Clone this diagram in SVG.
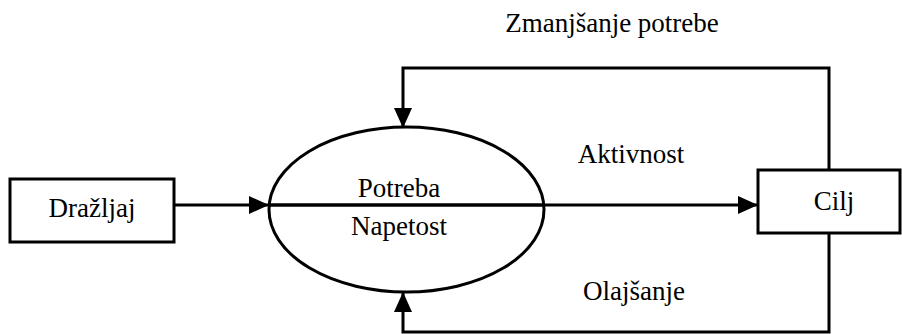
<svg xmlns="http://www.w3.org/2000/svg" width="902" height="334" viewBox="0 0 902 334">
<style>
.s{fill:none;stroke:#000;stroke-width:3}
.n{fill:#fff;stroke:#000;stroke-width:3}
.t{font-family:'Liberation Serif','DejaVu Serif',serif;font-size:27px;fill:#000}
</style>
<defs>
<marker id="ah" markerUnits="userSpaceOnUse" markerWidth="20" markerHeight="20" viewBox="0 0 20 20" refX="20" refY="10" orient="auto">
<path d="M0,1 L20,10 L0,19 Z" fill="#000"/>
</marker>
</defs>
<rect width="902" height="334" fill="#fff"/>
<g id="connectors">
<line class="s" x1="174" y1="205" x2="269" y2="205" marker-end="url(#ah)"/>
<line class="s" x1="269" y1="205" x2="758" y2="205" marker-end="url(#ah)"/>
<polyline class="s" points="829,170 829,68 403,68 403,128" marker-end="url(#ah)"/>
<polyline class="s" points="829,233 829,332 403,332 403,292" marker-end="url(#ah)"/>
</g>
<g id="drazljaj">
<rect class="n" x="10" y="179" width="164" height="63"/>
<text class="t" font-family="Liberation Serif, serif" x="92" y="217" text-anchor="middle">Dražljaj</text>
</g>
<g id="potreba">
<ellipse class="s" cx="406.5" cy="209.5" rx="137.5" ry="82.5"/>
<line class="s" x1="269" y1="205" x2="544" y2="205"/>
<text class="t" x="399" y="197" text-anchor="middle">Potreba</text>
<text class="t" x="399" y="235" text-anchor="middle">Napetost</text>
</g>
<g id="cilj">
<rect class="n" x="758" y="170" width="142" height="63"/>
<text class="t" x="834" y="210" text-anchor="middle">Cilj</text>
</g>
<g id="labels">
<text class="t" x="612" y="32" text-anchor="middle">Zmanjšanje potrebe</text>
<text class="t" x="631" y="163" text-anchor="middle">Aktivnost</text>
<text class="t" x="634" y="300" text-anchor="middle">Olajšanje</text>
</g>
</svg>
